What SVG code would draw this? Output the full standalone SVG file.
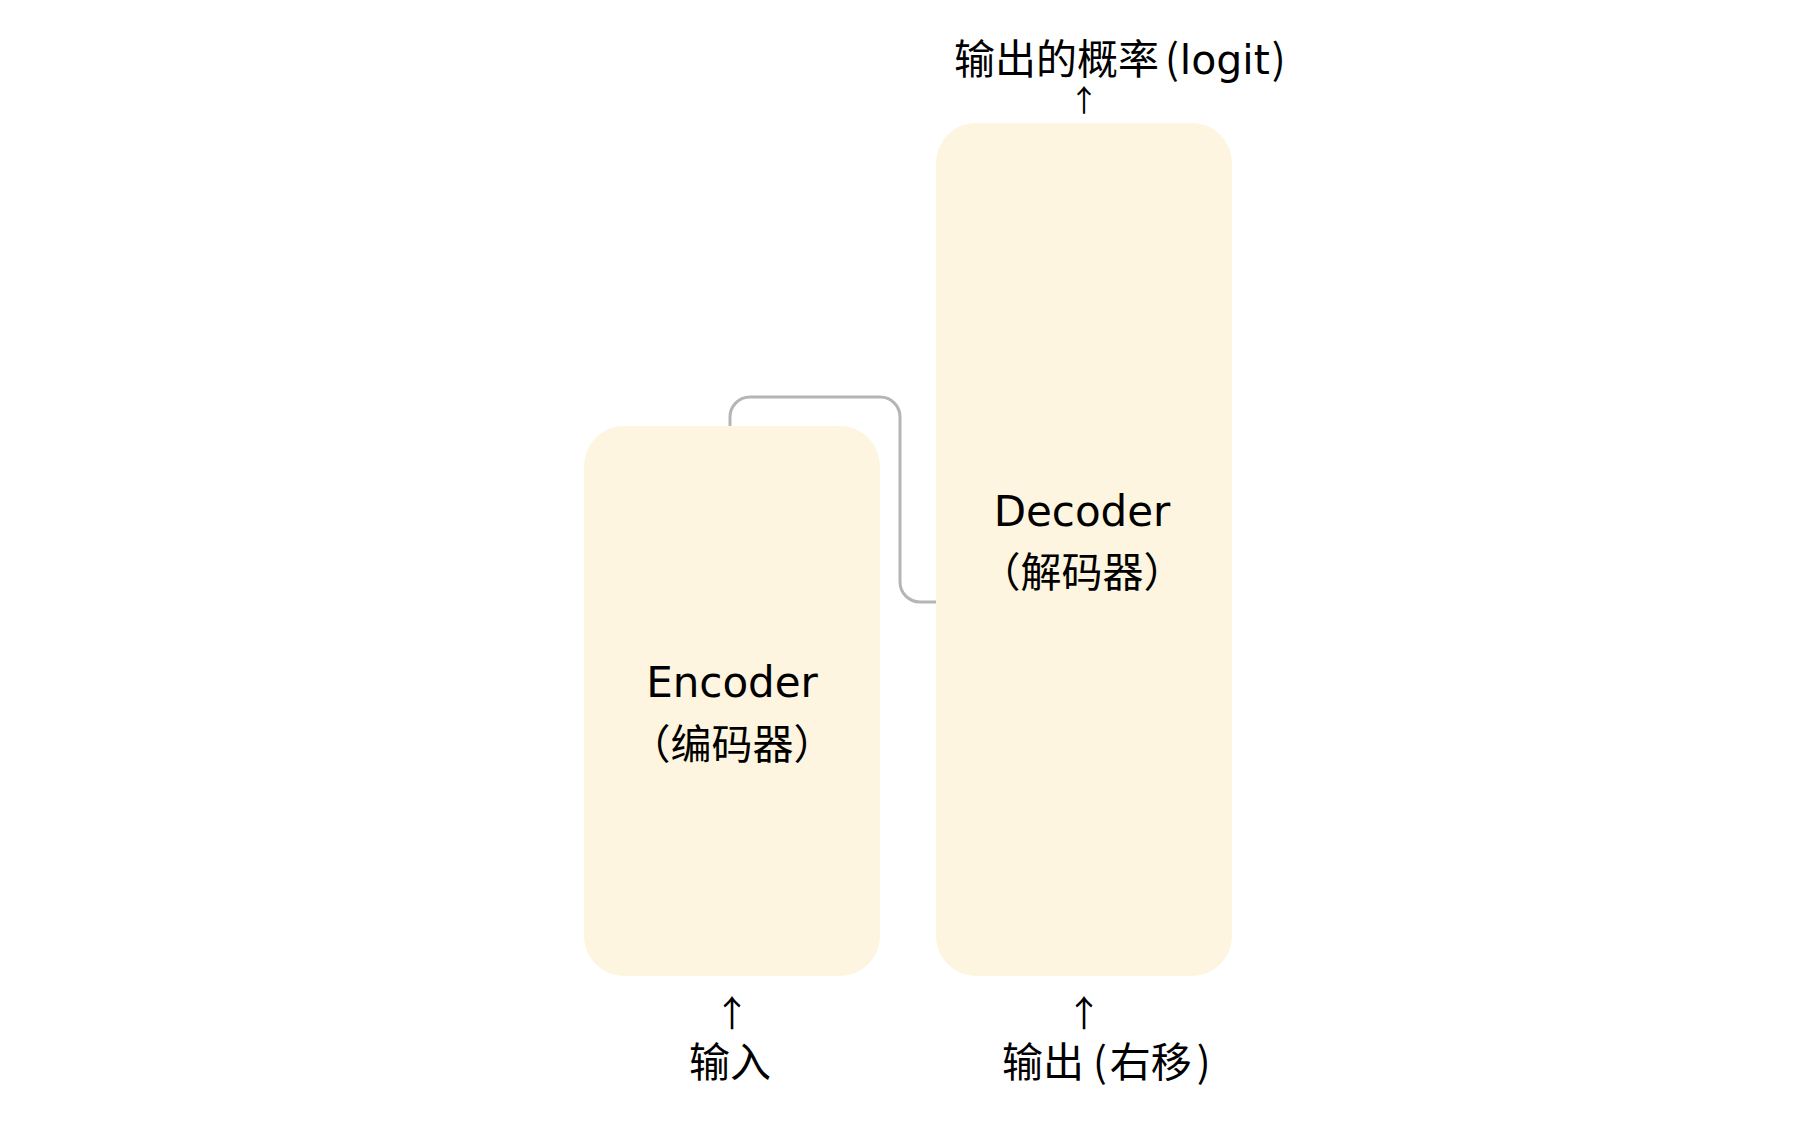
<svg xmlns="http://www.w3.org/2000/svg" width="1816" height="1135" viewBox="0 0 1816 1135">
  <style>
    .box { fill: #fdf5df; }
    .link { fill: none; stroke: #b5b5b5; stroke-width: 3; }
    .lbl { font-family: "DejaVu Sans", "Noto Sans CJK SC", sans-serif; font-size: 41px; fill: #000; }
    .big { font-size: 42px; }
    .mid { text-anchor: middle; }
    .cjk { font-family: "Noto Sans CJK SC", sans-serif; }
    .arr { font-family: "Noto Sans CJK SC", sans-serif; fill: #000; text-anchor: middle; }
  </style>
  <rect width="1816" height="1135" fill="#ffffff"/>

  <!-- encoder output feeding into the decoder -->
  <g id="connectors">
    <path class="link" d="M730,426 V417 A20,20 0 0 1 750,397 H880 A20,20 0 0 1 900,417 V582 A20,20 0 0 0 920,602 H936"/>
  </g>

  <g id="encoder">
    <rect class="box" x="584" y="426" width="296" height="550" rx="40" ry="40"/>
    <text class="lbl big mid" x="732" y="697">Encoder</text>
    <text class="lbl mid" x="732" y="759"><tspan class="cjk">（</tspan>编码器<tspan class="cjk">）</tspan></text>
  </g>

  <g id="decoder">
    <rect class="box" x="936" y="123" width="296" height="853" rx="40" ry="40"/>
    <text class="lbl big mid" x="1082" y="526">Decoder</text>
    <text class="lbl mid" x="1082" y="587"><tspan class="cjk">（</tspan>解码器<tspan class="cjk">）</tspan></text>
  </g>

  <g id="logits">
    <text class="lbl" x="954" y="74" font-size="39">输出的概率<tspan class="cjk" dx="6">(</tspan><tspan dx="1">logit</tspan><tspan class="cjk" dx="2">)</tspan></text>
    <text class="arr" x="1084" y="111" font-size="30">↑</text>
  </g>

  <g id="input">
    <text class="arr" x="732" y="1027" font-size="36">↑</text>
    <text class="lbl mid" x="730" y="1077">输入</text>
  </g>

  <g id="shifted-output">
    <text class="arr" x="1084" y="1027" font-size="36">↑</text>
    <text class="lbl" x="1002" y="1077">输出<tspan class="cjk" dx="9">(</tspan><tspan dx="3">右移</tspan><tspan class="cjk" dx="5">)</tspan></text>
  </g>
</svg>
